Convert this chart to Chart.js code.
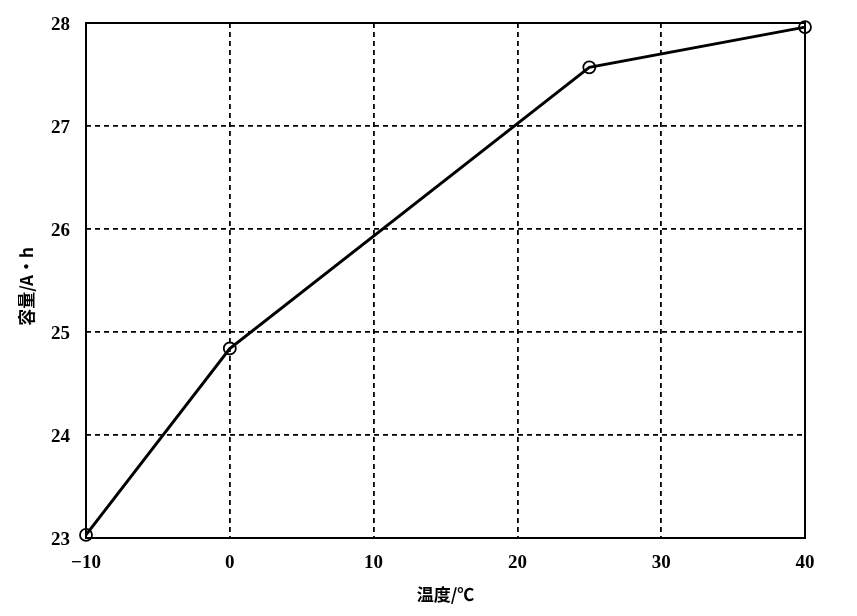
<!DOCTYPE html>
<html>
<head>
<meta charset="utf-8">
<script src="https://cdn.jsdelivr.net/npm/chart.js@4.4.0/dist/chart.umd.min.js"></script>
<style>
html,body{margin:0;padding:0;background:#fff;}
#wrap{width:857px;height:616px;position:relative;}
</style>
</head>
<body>
<div id="wrap"><canvas id="c" width="857" height="616"></canvas></div>
<script>
const temperatures = [-10, 0, 25, 40];
const capacities = [23.03, 24.84, 27.57, 27.96];
const xTickValues = [-10, 0, 10, 20, 30, 40];
const xTickLabels = ['\u221210', '0', '10', '20', '30', '40'];
const yTickLabels = ['23', '24', '25', '26', '27', '28'];
const xTitle = '温度/℃';
const yTitle = '容量/A·h';

const boxPlugin = {
  id: 'box',
  afterDatasetsDraw(chart) {
    const {ctx, chartArea: a} = chart;
    ctx.save();
    ctx.strokeStyle = '#000';
    ctx.lineWidth = 2;
    ctx.setLineDash([]);
    ctx.strokeRect(a.left, a.top, a.right - a.left, a.bottom - a.top);
    ctx.restore();
  }
};

const tickFont = {family: '"Liberation Serif", "DejaVu Serif", serif', size: 19, weight: 'bold'};
const yTickFont = {family: '"Liberation Serif", "DejaVu Serif", serif', size: 19, weight: 'bold', lineHeight: 0.3};
const titleFont = {family: '"Noto Sans CJK SC", sans-serif', size: 17, weight: 'bold'};

new Chart(document.getElementById('c'), {
  type: 'scatter',
  data: {
    datasets: [{
      data: temperatures.map((t, i) => ({x: t, y: capacities[i]})),
      showLine: true,
      clip: false,
      borderColor: '#000',
      borderWidth: 3,
      pointRadius: 6,
      pointHoverRadius: 6,
      pointBorderWidth: 1.8,
      pointBorderColor: '#000',
      pointBackgroundColor: 'rgba(0,0,0,0)',
      tension: 0
    }]
  },
  options: {
    responsive: false,
    animation: false,
    devicePixelRatio: 1,
    layout: {autoPadding: false, padding: {top: 23, right: 52, left: 0, bottom: 0}},
    plugins: {legend: {display: false}, tooltip: {enabled: false}},
    scales: {
      x: {
        type: 'linear', min: -10, max: 40,
        afterBuildTicks(axis) { axis.ticks = xTickValues.map(v => ({value: v})); },
        afterFit(axis) { axis.height = 78; },
        ticks: {
          font: tickFont, color: '#000', padding: 14,
          callback: (v) => xTickLabels[xTickValues.indexOf(v)]
        },
        grid: {color: '#000', lineWidth: 1.8, drawTicks: false},
        border: {display: false, dash: [5, 4]},
        title: {display: true, text: xTitle, font: titleFont, color: '#000', padding: {top: 0, bottom: 11}}
      },
      y: {
        type: 'linear', min: 23, max: 28,
        afterBuildTicks(axis) { axis.ticks = yTickLabels.map(v => ({value: Number(v)})); },
        afterFit(axis) { axis.width = 86; },
        ticks: {
          font: yTickFont, color: '#000', padding: 16, labelOffset: 2,
          callback: (v) => yTickLabels[yTickLabels.indexOf(String(v))]
        },
        grid: {color: '#000', lineWidth: 1.8, drawTicks: false},
        border: {display: false, dash: [5, 4]},
        title: {display: true, text: yTitle + '\u2002\u2009', font: titleFont, color: '#000', padding: {top: 16, bottom: 0}}
      }
    }
  },
  plugins: [boxPlugin]
});
</script>
</body>
</html>
